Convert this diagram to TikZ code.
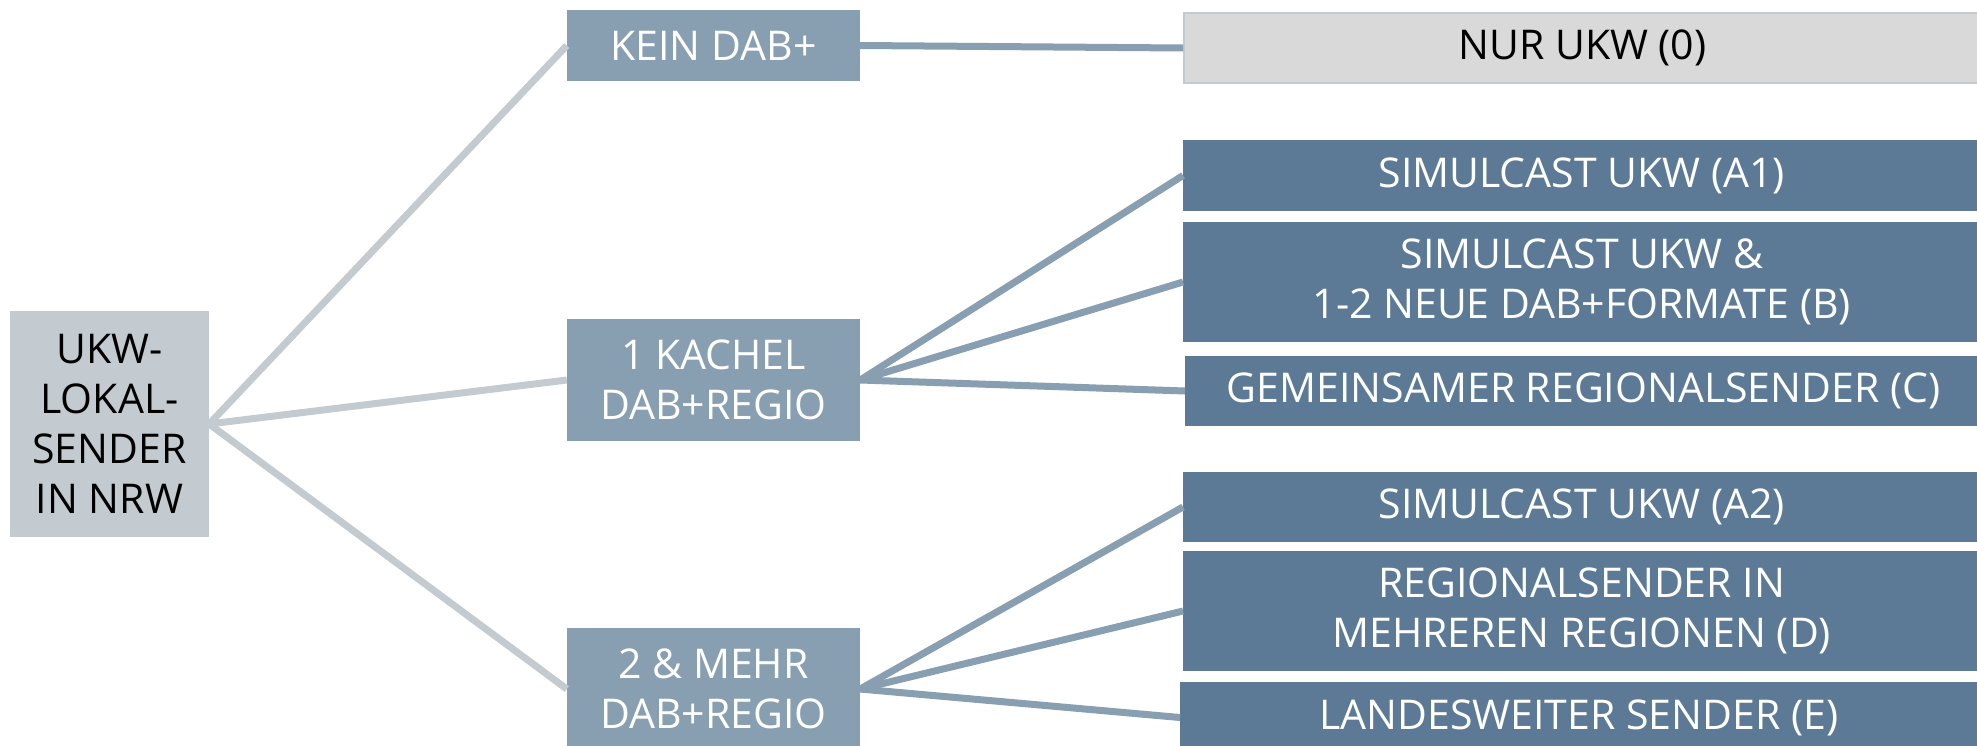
\documentclass[tikz,border=0pt]{standalone}
\usepackage{fontspec}
\setmainfont{Open Sans}
\definecolor{rootgray}{HTML}{C3CBD1}
\definecolor{midblue}{HTML}{879FB1}
\definecolor{darkblue}{HTML}{5C7A96}
\definecolor{nurgray}{HTML}{D9D9D9}
\tikzset{
  box/.style={align=center, inner sep=0pt, font=\fontsize{41}{50}\selectfont},
  rootbox/.style={box, fill=rootgray, text=black, minimum width=199pt, minimum height=226pt},
  midbox/.style={box, fill=midblue, text=white, minimum width=293pt},
  outbox/.style={box, fill=darkblue, text=white, minimum width=797pt, anchor=west},
  rootline/.style={rootgray, line width=7pt},
  midline/.style={midblue, line width=7pt},
}

\begin{document}
\begin{tikzpicture}[x=1pt,y=-1pt]
  \useasboundingbox (0,0) rectangle (1977,745);
  \clip (0,0) rectangle (1977,745);
  % start
  \node[rootbox] (root) at (109.5,424) {UKW-\\LOKAL-\\SENDER\\IN NRW};
  % DAB+ options
  \node[midbox, minimum height=71pt]  (kein)   at (713.5,45.5) {KEIN DAB+};
  \node[midbox, minimum height=122pt] (kachel) at (713.5,380)  {1 KACHEL\\DAB+REGIO};
  \node[midbox, minimum height=122pt] (mehr)   at (713.5,689)  {2 \& MEHR\\DAB+REGIO};
  % scenarios
  \node[outbox, fill=nurgray, text=black, draw=rootgray, line width=2pt, minimum height=70pt] (nur) at (1183,48) {NUR UKW (0)};
  \node[outbox, minimum height=71pt]  (aone) at (1183,175.5) {SIMULCAST UKW (A1)};
  \node[outbox, minimum height=120pt] (b)    at (1183,282)   {SIMULCAST UKW \&\\1-2 NEUE DAB+FORMATE (B)};
  \node[outbox, minimum height=70pt]  (c)    at (1185,391)   {GEMEINSAMER REGIONALSENDER (C)};
  \node[outbox, minimum height=70pt]  (atwo) at (1183,507)   {SIMULCAST UKW (A2)};
  \node[outbox, minimum height=120pt] (d)    at (1183,611)   {REGIONALSENDER IN\\MEHREREN REGIONEN (D)};
  \node[outbox, minimum height=71pt]  (e)    at (1180,717.5) {LANDESWEITER SENDER (E)};
  % connectors
  \foreach \m in {kein,kachel,mehr}
    \draw[rootline] (root.east) -- (\m.west);
  \draw[midline] (kein.east) -- (nur.west);
  \foreach \s in {aone,b,c}
    \draw[midline] (kachel.east) -- (\s.west);
  \foreach \s in {atwo,d,e}
    \draw[midline] (mehr.east) -- (\s.west);
\end{tikzpicture}
\end{document}
